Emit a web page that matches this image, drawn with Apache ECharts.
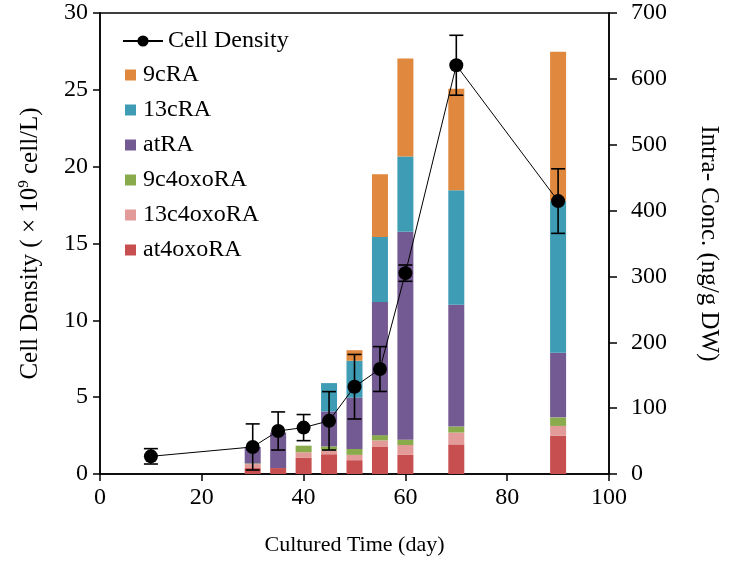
<!DOCTYPE html>
<html><head><meta charset="utf-8">
<script src="https://cdn.jsdelivr.net/npm/echarts@6/dist/echarts.min.js"></script>
<style>html,body{margin:0;padding:0;background:#fff}#c{width:729px;height:562px}</style>
</head><body><div id="c"></div>
<script>
// Days of the bar measurements
var barDays = [30, 35, 40, 45, 50, 55, 60, 70, 90];
// Intra- concentrations (ng/g DW), stacked from bottom
var at4oxoRA   = [9, 9, 25, 30, 21, 41, 29, 45, 58];
var c13_4oxoRA = [6, 0, 8, 6, 8, 10, 15, 18, 15];
var c9_4oxoRA  = [1, 0, 10, 6, 9, 8, 8, 9, 13];
var atRA       = [25, 54, 0, 53, 78, 202, 316, 185, 98];
var c13cRA     = [0, 0, 0, 43, 56, 99, 114, 174, 231];
var c9cRA      = [0, 0, 0, 0, 16, 95, 149, 154, 226];
// Cell density (x10^9 cell/L) with error
var cdDays = [10, 30, 35, 40, 45, 50, 55, 60, 70, 90];
var cdVal  = [1.15, 1.76, 2.8, 3.02, 3.46, 5.68, 6.83, 13.07, 26.6, 17.76];
var cdErr  = [0.5, 1.5, 1.24, 0.85, 1.9, 2.1, 1.46, 0.53, 1.95, 2.1];

var colors = {
  '9cRA': '#e0883d', '13cRA': '#3e9cb4', 'atRA': '#745a93',
  '9c4oxoRA': '#89ab4c', '13c4oxoRA': '#e39b99', 'at4oxoRA': '#c84f4f'
};
var font = 'Liberation Serif, Times New Roman, serif';
var FS = 24;

var stackOrder = [['at4oxoRA', at4oxoRA], ['13c4oxoRA', c13_4oxoRA], ['9c4oxoRA', c9_4oxoRA],
                  ['atRA', atRA], ['13cRA', c13cRA], ['9cRA', c9cRA]];
var base = barDays.map(function(){ return 0; });
var barSeriesList = stackOrder.map(function(s){
  var name = s[0], vals = s[1];
  var data = barDays.map(function(d, i){
    var b = base[i]; base[i] += vals[i];
    return [d, b, base[i]];
  });
  return { name: name, type: 'custom', yAxisIndex: 1, z: 2,
    itemStyle: { color: colors[name] }, data: data,
    renderItem: function(params, api){
      var x = api.value(0), b = api.value(1), t = api.value(2);
      if (t <= b) return null;
      var p0 = api.coord([x, b]), p1 = api.coord([x, t]);
      var w = 16;
      return { type: 'rect', shape: { x: p0[0] - w/2, y: p1[1], width: w, height: p0[1] - p1[1] },
        style: { fill: colors[name] } };
    } };
});

var chart = echarts.init(document.getElementById('c'));
chart.setOption({
  animation: false,
  textStyle: { fontFamily: font },
  grid: { left: 100, right: 117, top: 13, bottom: 88, show: true, borderColor: '#000', borderWidth: 1.5 },
  legend: [
    { data: ['Cell Density'], orient: 'vertical', left: 117, top: 24, itemWidth: 40, itemHeight: 14,
      itemGap: 10, textStyle: { fontFamily: font, fontSize: FS, color: '#000' } },
    { data: ['9cRA', '13cRA', 'atRA', '9c4oxoRA', '13c4oxoRA', 'at4oxoRA'], orient: 'vertical',
      left: 120, top: 58, itemWidth: 11, itemHeight: 11, itemGap: 11, icon: 'rect',
      textStyle: { fontFamily: font, fontSize: FS, color: '#000', padding: [0,0,0,2] } }
  ],
  xAxis: { type: 'value', min: 0, max: 100, interval: 20,
    name: 'Cultured Time (day)', nameLocation: 'middle', nameGap: 60,
    nameTextStyle: { fontFamily: font, fontSize: 22, color: '#000' },
    axisLine: { lineStyle: { color: '#000', width: 1.5 } },
    axisTick: { length: 7, lineStyle: { color: '#000', width: 1.5 } },
    axisLabel: { fontFamily: font, fontSize: FS, color: '#000', margin: 12 },
    splitLine: { show: false } },
  yAxis: [
    { type: 'value', min: 0, max: 30, interval: 5, position: 'left',
      name: 'Cell Density ( \u00D7 10{s|9} cell/L)', nameLocation: 'middle', nameGap: 56,
      nameTextStyle: { fontFamily: font, fontSize: 25, color: '#000',
        rich: { s: { fontFamily: font, fontSize: 15, verticalAlign: 'top', padding: [0,0,12,0] } } },
      axisLine: { show: true, lineStyle: { color: '#000', width: 1.5 } },
      axisTick: { show: true, length: 7, lineStyle: { color: '#000', width: 1.5 } },
      axisLabel: { fontFamily: font, fontSize: FS, color: '#000', margin: 12 },
      splitLine: { show: false } },
    { type: 'value', min: 0, max: 700, interval: 100, position: 'right',
      name: 'Intra- Conc. (ng/g DW)', nameLocation: 'middle', nameGap: 87, nameRotate: -90,
      nameTextStyle: { fontFamily: font, fontSize: 25, color: '#000' },
      axisLine: { show: true, lineStyle: { color: '#000', width: 1.5 } },
      axisTick: { show: true, length: 8, lineStyle: { color: '#000', width: 1.5 } },
      axisLabel: { fontFamily: font, fontSize: FS, color: '#000', margin: 22 },
      splitLine: { show: false } }
  ],
  series: barSeriesList.concat([
    { name: 'Cell Density', type: 'line', yAxisIndex: 0, data: cdDays.map(function(d,i){ return [d, cdVal[i]]; }),
      symbol: 'circle', symbolSize: 14, itemStyle: { color: '#000' },
      lineStyle: { color: '#000', width: 1 }, z: 5 },
    { name: 'err', type: 'custom', yAxisIndex: 0, z: 4, silent: true,
      data: cdDays.map(function(d,i){ return [d, cdVal[i], cdErr[i]]; }),
      renderItem: function(params, api){
        var x = api.value(0), y = api.value(1), e = api.value(2);
        var top = api.coord([x, y + e]), bot = api.coord([x, y - e]);
        var w = 7, st = { stroke: '#000', lineWidth: 1.6 };
        return { type: 'group', children: [
          { type: 'line', shape: { x1: top[0], y1: top[1], x2: bot[0], y2: bot[1] }, style: st },
          { type: 'line', shape: { x1: top[0]-w, y1: top[1], x2: top[0]+w, y2: top[1] }, style: st },
          { type: 'line', shape: { x1: bot[0]-w, y1: bot[1], x2: bot[0]+w, y2: bot[1] }, style: st }
        ]};
      } }
  ])
});
</script></body></html>
